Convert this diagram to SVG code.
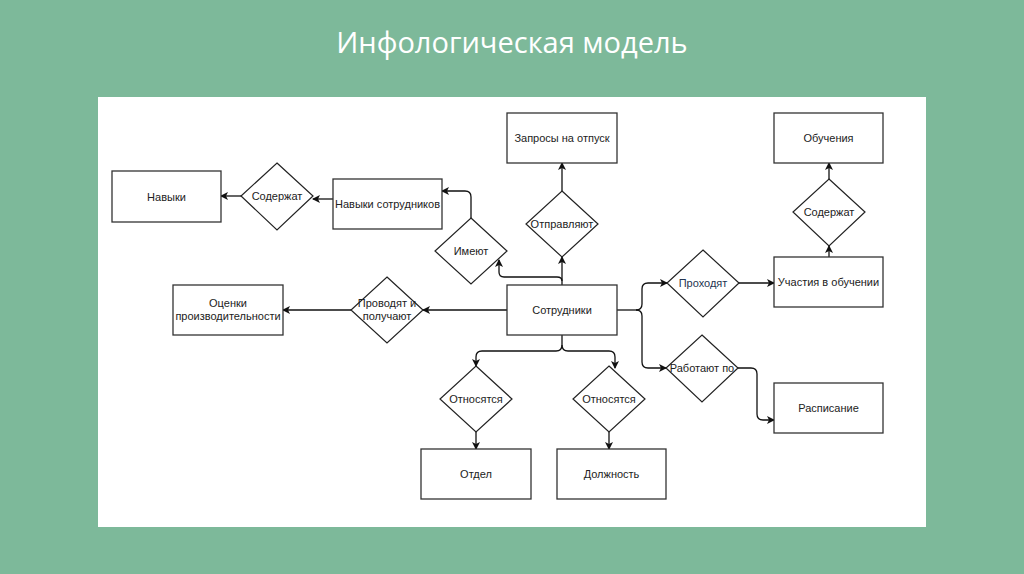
<svg xmlns="http://www.w3.org/2000/svg" width="1024" height="574" viewBox="0 0 1024 574">
<defs>
<marker id="arr" markerWidth="10" markerHeight="10" refX="8" refY="5" orient="auto" markerUnits="userSpaceOnUse">
<path d="M1,1 L9,5 L1,9 L3,5 Z" fill="#111"/>
</marker>
<style>
.box{fill:#fff;stroke:#333;stroke-width:1.3}
.dia{fill:#fff;stroke:#222;stroke-width:1.2}
.lbl{font-family:"Liberation Sans",Arial,sans-serif;font-size:11px;fill:#222;text-anchor:middle;dominant-baseline:central}
.con{fill:none;stroke:#111;stroke-width:1.3;marker-end:url(#arr)}
.plain{fill:none;stroke:#111;stroke-width:1.3}
</style>
</defs>
<rect x="0" y="0" width="1024" height="574" fill="#7db99a"/>
<text x="512" y="53" font-family="'Open Sans','Liberation Sans',sans-serif" font-size="29" fill="#fff" text-anchor="middle">Инфологическая модель</text>
<rect x="98" y="97" width="828" height="430" fill="#fff"/>

<g id="connectors">
<path class="con" d="M241,196 L221,196"/>
<path class="con" d="M333,199 L313,199"/>
<path class="con" d="M471,218 L471,197 Q471,191 465,191 L442,191"/>
<path class="con" d="M562,285 L562,257"/>
<path class="con" d="M562,281 Q562,277 557,277 L504,277 Q499,277 499,272 L499,260"/>
<path class="con" d="M562,191 L562,163"/>
<path class="con" d="M507,310 L423,310"/>
<path class="con" d="M351,310 L283,310"/>
<path class="plain" d="M617,310 L636,310"/>
<path class="con" d="M636,310 Q642,310 642,304 L642,289 Q642,283 648,283 L667,283"/>
<path class="con" d="M636,310 Q642,310 642,316 L642,362 Q642,368 648,368 L666,368"/>
<path class="con" d="M738,283 L774,283"/>
<path class="con" d="M829,257 L829,246"/>
<path class="con" d="M829,179 L829,163"/>
<path class="con" d="M738,368 L751,368 Q757,368 757,374 L757,414 Q757,420 763,420 L774,420"/>
<path class="plain" d="M562,335 L562,345 Q562,351 556,351"/>
<path class="con" d="M556,351 L482,351 Q476,351 476,357 L476,366"/>
<path class="con" d="M562,345 Q562,351 568,351 L609,351 Q615,351 615,357 L615,368"/>
<path class="con" d="M476,432 L476,449"/>
<path class="con" d="M609,432 L609,449"/>
</g>

<g id="navyki"><rect class="box" x="112" y="171" width="109" height="51"/><text class="lbl" x="166.5" y="196.5">Навыки</text></g>
<g id="soderzhat1"><polygon class="dia" points="277,163 313,196 277,230 241,196"/><text class="lbl" x="277" y="196">Содержат</text></g>
<g id="navyki-sotr"><rect class="box" x="333" y="179" width="109" height="50"/><text class="lbl" x="387.5" y="204">Навыки сотрудников</text></g>
<g id="imeyut"><polygon class="dia" points="471,218 507,251 471,284 435,251"/><text class="lbl" x="471" y="251">Имеют</text></g>
<g id="ocenki"><rect class="box" x="173" y="285" width="110" height="50"/><text class="lbl" x="228" y="303">Оценки</text><text class="lbl" x="228" y="316">производительности</text></g>
<g id="provodyat"><polygon class="dia" points="387,277 423,310 387,343 351,310"/><text class="lbl" x="387" y="303">Проводят и</text><text class="lbl" x="387" y="316">получают</text></g>
<g id="sotrudniki"><rect class="box" x="507" y="285" width="110" height="50"/><text class="lbl" x="562" y="310">Сотрудники</text></g>
<g id="zaprosy"><rect class="box" x="507" y="113" width="110" height="50"/><text class="lbl" x="562" y="138">Запросы на отпуск</text></g>
<g id="otpravlyayut"><polygon class="dia" points="562,191 598,224 562,257 526,224"/><text class="lbl" x="562" y="224">Отправляют</text></g>
<g id="obucheniya"><rect class="box" x="774" y="113" width="109" height="50"/><text class="lbl" x="828.5" y="138">Обучения</text></g>
<g id="soderzhat2"><polygon class="dia" points="829,179 865,212 829,246 793,212"/><text class="lbl" x="829" y="212">Содержат</text></g>
<g id="uchastiya"><rect class="box" x="774" y="257" width="109" height="50"/><text class="lbl" x="828.5" y="282">Участия в обучении</text></g>
<g id="prohodyat"><polygon class="dia" points="703,250 739,283 703,317 667,283"/><text class="lbl" x="703" y="283" style="fill:#243450">Проходят</text></g>
<g id="rabotayut"><polygon class="dia" points="702,335 738,368 702,402 666,368"/><text class="lbl" x="702" y="368">Работают по</text></g>
<g id="raspisanie"><rect class="box" x="774" y="383" width="109" height="50"/><text class="lbl" x="828.5" y="408">Расписание</text></g>
<g id="otnosyatsya2"><polygon class="dia" points="609,366 645,399 609,432 573,399"/><text class="lbl" x="609" y="399">Относятся</text></g>
<g id="dolzhnost"><rect class="box" x="557" y="449" width="109" height="50"/><text class="lbl" x="611.5" y="474">Должность</text></g>
<g id="otnosyatsya1"><polygon class="dia" points="476,366 512,399 476,432 440,399"/><text class="lbl" x="476" y="399">Относятся</text></g>
<g id="otdel"><rect class="box" x="421" y="449" width="110" height="50"/><text class="lbl" x="476" y="474">Отдел</text></g>
</svg>
